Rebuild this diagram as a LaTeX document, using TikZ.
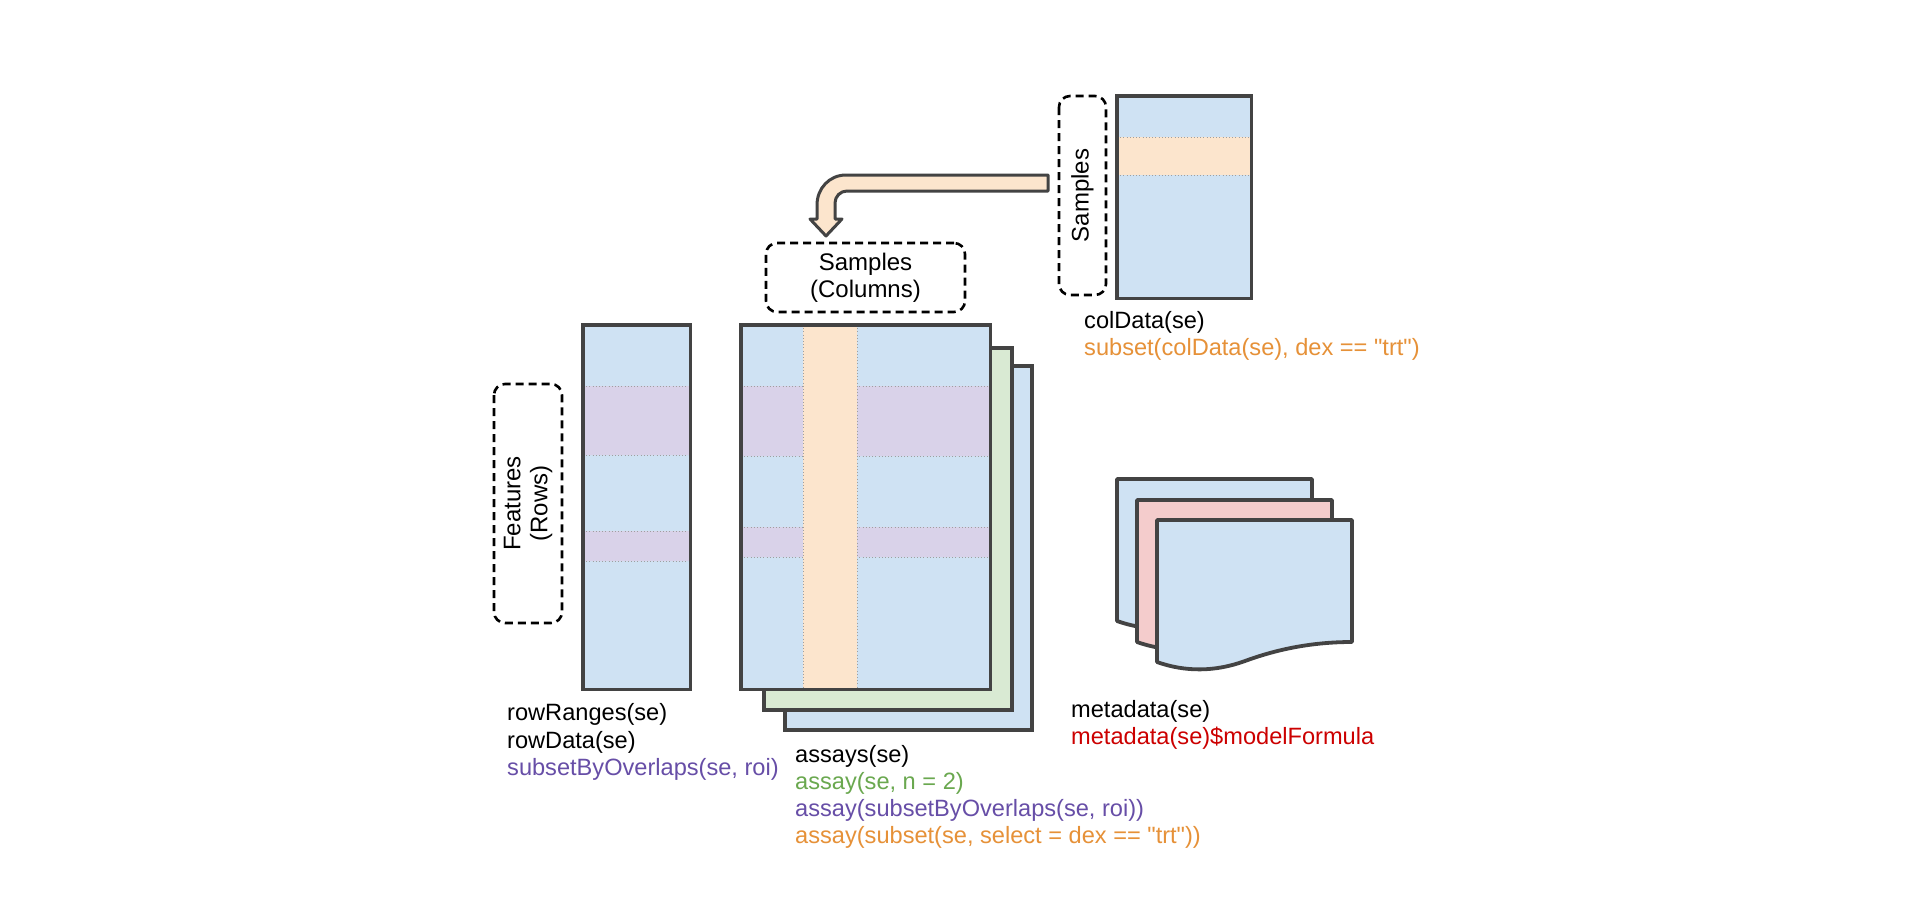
\documentclass[tikz,border=0pt]{standalone}
\usepackage{fontspec}
\setmainfont{Liberation Sans}[Ligatures=TeXOff]
\begin{document}
\definecolor{cblue}{HTML}{CFE2F3}
\definecolor{corange}{HTML}{FCE5CD}
\definecolor{cpurple}{HTML}{D9D2E9}
\definecolor{cgreen}{HTML}{D9EAD3}
\definecolor{cpink}{HTML}{F4CCCC}
\definecolor{cframe}{HTML}{434343}
\definecolor{torange}{HTML}{E69138}
\definecolor{tpurple}{HTML}{674EA7}
\definecolor{tgreen}{HTML}{6AA84F}
\definecolor{tred}{HTML}{CC0000}
\begin{tikzpicture}[x=1pt,y=-1pt,
  frame/.style={draw=cframe,line width=3.8pt},
  sheet/.style={frame,fill=cblue,rectangle,inner sep=0pt,anchor=north west},
  plainbox/.style={fill=cblue,rectangle,inner sep=0pt,anchor=north west},
  dotline/.style={draw=gray!75,line width=0.9pt,dash pattern=on 1pt off 2.2pt},
  dashbox/.style={draw=black,line width=2.6pt,dash pattern=on 8pt off 5pt,
    rounded corners=11pt,rectangle,inner sep=0pt,align=center,
    font=\fontsize{24}{27}\selectfont},
  code/.style={anchor=base west,inner sep=0pt,font=\fontsize{23.6}{28}\selectfont},
]
\useasboundingbox (0,0) rectangle (1920,910);
\fill[white] (0,0) rectangle (1920,910);

% ---- colData panel ----
\node[plainbox,minimum width=134pt,minimum height=202pt] (coldata) at (1117,96) {};
\fill[corange] (1117,137) rectangle (1251,175);
\draw[dotline] (1117,137) -- (1251,137) (1117,175) -- (1251,175);
\draw[frame] (coldata.north west) rectangle (coldata.south east);
\node[dashbox,rotate=90,minimum width=199pt,minimum height=47pt] (samplesside) at (1082.5,195.5) {Samples};

% ---- bent arrow from colData to the sample columns ----
\draw[fill=corange,draw=cframe,line width=3pt,line join=round]
  (1048,175) -- (846,175)
  .. controls (829.4,175) and (817,188.4) .. (817,205)
  -- (817,219) -- (810,219) -- (826,236) -- (842,219) -- (835,219)
  -- (835,203)
  .. controls (835,196.4) and (840.4,191) .. (847,191)
  -- (1048,191) -- cycle;

\node[dashbox,minimum width=199pt,minimum height=69pt] (samplescol) at (865.5,277.5) {Samples\\(Columns)};

% ---- rowData panel ----
\node[plainbox,minimum width=107pt,minimum height=364pt] (rowdata) at (583,325) {};
\fill[cpurple] (583,386) rectangle (690,455) (583,531) rectangle (690,561);
\draw[dotline] (583,386) -- (690,386) (583,455) -- (690,455)
               (583,531) -- (690,531) (583,561) -- (690,561);
\draw[frame] (rowdata.north west) rectangle (rowdata.south east);
\node[dashbox,rotate=90,minimum width=239pt,minimum height=68pt] (features) at (528,503.5) {Features\\(Rows)};

% ---- assay stack ----
\node[sheet,minimum width=247pt,minimum height=364pt] (assay3) at (783,364) {};
\node[sheet,fill=cgreen,minimum width=248pt,minimum height=362pt] (assay2) at (762,346) {};
\node[plainbox,minimum width=249pt,minimum height=364pt] (assay1) at (741,325) {};
\fill[cpurple] (741,386) rectangle (990,456) (741,527) rectangle (990,557);
\draw[dotline] (741,386) -- (990,386) (741,456) -- (990,456)
               (741,527) -- (990,527) (741,557) -- (990,557);
\fill[corange] (803,325) rectangle (857,689);
\draw[dotline] (803,325) -- (803,689) (857,325) -- (857,689);
\draw[frame] (assay1.north west) rectangle (assay1.south east);

% ---- metadata documents ----
\foreach \dx/\dy/\col/\nm in {-40/-41/cblue/docA,-20/-20/cpink/docB,0/0/cblue/docC}{
  \begin{scope}[shift={(\dx,\dy)}]
    \draw[frame,fill=\col,line join=round]
      (1157,520) coordinate (\nm) -- (1352,520) -- (1352,642)
      .. controls (1310,642) and (1275,650) .. (1245,661)
      .. controls (1215,672) and (1185,672) .. (1157,662) -- cycle;
  \end{scope}
}

% ---- accessor labels ----
\node[code] (lcol1) at (1084,328) {colData(se)};
\node[code,text=torange] (lcol2) at (1084,355) {subset(colData(se), dex == "trt")};

\node[code] (lrow1) at (507,720) {rowRanges(se)};
\node[code] (lrow2) at (507,748) {rowData(se)};
\node[code,text=tpurple] (lrow3) at (507,775) {subsetByOverlaps(se, roi)};

\node[code] (las1) at (795,762) {assays(se)};
\node[code,text=tgreen] (las2) at (795,789) {assay(se, n = 2)};
\node[code,text=tpurple] (las3) at (795,816) {assay(subsetByOverlaps(se, roi))};
\node[code,text=torange] (las4) at (795,843) {assay(subset(se, select = dex == "trt"))};

\node[code] (lmeta1) at (1071,717) {metadata(se)};
\node[code,text=tred] (lmeta2) at (1071,744) {metadata(se)\$modelFormula};
\end{tikzpicture}
\end{document}
